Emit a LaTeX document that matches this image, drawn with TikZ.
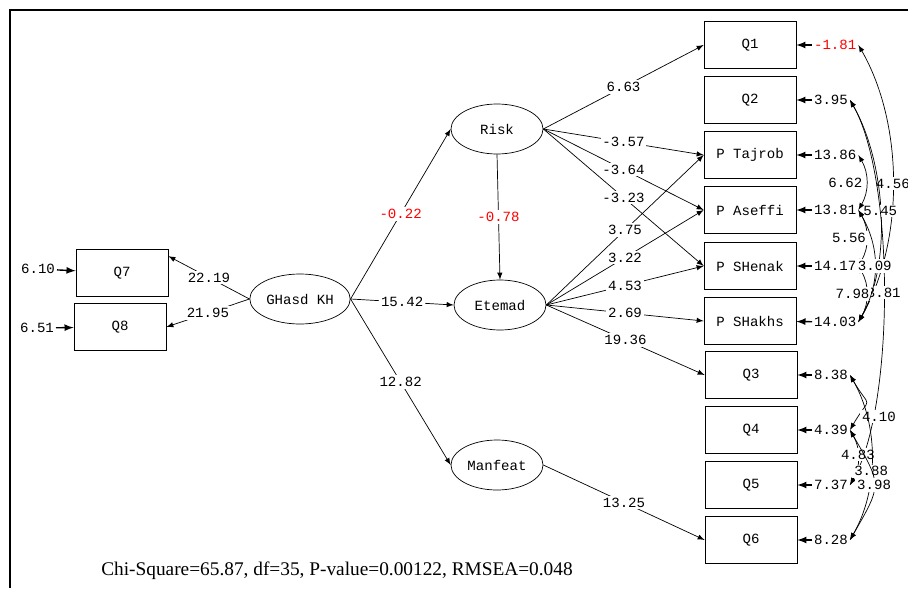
\documentclass[tikz,border=0pt]{standalone}
\usepackage{fontspec}
\setmainfont{Liberation Serif}
\newfontfamily\lismono{Liberation Mono}
\usetikzlibrary{shapes.geometric}

\begin{document}
\begin{tikzpicture}[x=0.02cm, y=-0.02cm,
  obs/.style={draw, rectangle, minimum width=1.84cm, minimum height=0.93cm, font=\lismono\fontsize{8}{9}\selectfont},
  lat/.style={draw, ellipse, minimum width=1.84cm, minimum height=1cm, inner sep=1, font=\lismono\fontsize{8}{9}\selectfont},
  val/.style={inner sep=1pt, font=\lismono\fontsize{8}{9}\selectfont},
  coef/.style={val, fill=white},
  neg/.style={text=red}]
\useasboundingbox (0,0) rectangle (908,588);
\draw[line width=1.5pt] (10,588) -- (10,10) -- (908,10);
% Latent variables
\node[lat] (ghasd) at (300,299) {GHasd KH};
\node[lat] (risk) at (497,129) {Risk};
\node[lat] (etemad) at (500,305) {Etemad};
\node[lat] (manfeat) at (497,465) {Manfeat};
% Observed variables
\node[obs] (q7) at (122,273) {Q7};
\node[obs] (q8) at (120,327) {Q8};
\node[obs] (q1) at (750,45) {Q1};
\node[obs] (q2) at (750,100) {Q2};
\node[obs] (ptaj) at (750,155) {P Tajrob};
\node[obs] (pase) at (750,210) {P Aseffi};
\node[obs] (pshe) at (750,266) {P SHenak};
\node[obs] (psha) at (750,321) {P SHakhs};
\node[obs] (q3) at (751,375) {Q3};
\node[obs] (q4) at (751,430) {Q4};
\node[obs] (q5) at (751,485) {Q5};
\node[obs] (q6) at (751,540) {Q6};
% Error variances
\node[val, anchor=east] (e7) at (57,269) {6.10};
\node[val, anchor=east] (e8) at (56,328) {6.51};
\node[val, neg, anchor=west] (e1) at (812,45) {-1.81};
\node[val, anchor=west] (e2) at (812,100) {3.95};
\node[val, anchor=west] (e3) at (812,155) {13.86};
\node[val, anchor=west] (e4) at (812,210) {13.81};
\node[val, anchor=west] (e5) at (812,266) {14.17};
\node[val, anchor=west] (e6) at (812,322) {14.03};
\node[val, anchor=west] (e9) at (812,375) {8.38};
\node[val, anchor=west] (e10) at (812,430) {4.39};
\node[val, anchor=west] (e11) at (812,485) {7.37};
\node[val, anchor=west] (e12) at (812,540) {8.28};
% Arrows
\draw [->, thin, >=latex] (ghasd.west)--(q7.20) node[coef, pos=0.5] {22.19};
\draw [->, thin, >=latex] (ghasd.west)--(q8.east) node[coef, pos=0.5] {21.95};
\draw [->, thin, >=latex] (ghasd.east)--(risk.west) node[coef, neg, midway] {-0.22};
\draw [->, thin, >=latex] (ghasd.east)--(etemad.west) node[coef, midway] {15.42};
\draw [->, thin, >=latex] (ghasd.east)--(manfeat.west) node[coef, midway] {12.82};
\draw [->, thin, >=latex] (risk.south)--(etemad.north) node[coef, neg, midway] {-0.78};
\draw [->, thin, >=latex] (risk.east)--(q1.west) node[coef, midway] {6.63};
\draw [->, thin, >=latex] (risk.east)--(ptaj.west) node[coef, midway] {-3.57};
\draw [->, thin, >=latex] (risk.east)--(pase.west) node[coef, midway] {-3.64};
\draw [->, thin, >=latex] (risk.east)--(pshe.west) node[coef, midway] {-3.23};
\draw [->, thin, >=latex] (etemad.east)--(ptaj.west) node[coef, midway] {3.75};
\draw [->, thin, >=latex] (etemad.east)--(pase.west) node[coef, midway] {3.22};
\draw [->, thin, >=latex] (etemad.east)--(pshe.west) node[coef, midway] {4.53};
\draw [->, thin, >=latex] (etemad.east)--(psha.west) node[coef, midway] {2.69};
\draw [->, thin, >=latex] (etemad.east)--(q3.west) node[coef, midway] {19.36};
\draw [->, thin, >=latex] (manfeat.east)--(q6.west) node[coef, midway] {13.25};
% Errors:
\draw [->, thick, >=latex] (e7)--(q7);
\draw [->, thick, >=latex] (e8)--(q8);
\draw [->, thick, >=latex] (e1)--(q1);
\draw [->, thick, >=latex] (e2)--(q2);
\draw [->, thick, >=latex] (e3)--(ptaj);
\draw [->, thick, >=latex] (e4)--(pase);
\draw [->, thick, >=latex] (e5)--(pshe);
\draw [->, thick, >=latex] (e6)--(psha);
\draw [->, thick, >=latex] (e9)--(q3);
\draw [->, thick, >=latex] (e10)--(q4);
\draw [->, thick, >=latex] (e11)--(q5);
\draw [->, thick, >=latex] (e12)--(q6);
% Error covariances:
\draw[<->, thin, >=latex] (e1.east) to [out=-60,in=60,looseness=0.85] node[coef, pos=0.5] {4.56} (e6.east);
\draw[<->, thin, >=latex] (e2.east) to [out=-60,in=60,looseness=0.8] node[coef, pos=0.5] {5.45} (e6.east);
\draw[<->, thin, >=latex] (e2.east) to [out=-60,in=60,looseness=0.6] node[coef, pos=0.5] {3.81} (e11.east);
\draw[<->, thin, >=latex] (e3.east) to [out=-60,in=60,looseness=1] node[coef, pos=0.5, xshift=-12] {6.62} (e4.east);
\draw[<->, thin, >=latex] (e4.east) to [out=-60,in=60,looseness=1] node[coef, pos=0.5, xshift=-10] {5.56} (e5.east);
\draw[<->, thin, >=latex] (e5.east) to [out=-60,in=60,looseness=1] node[coef, pos=0.5, xshift=-8] {7.98} (e6.east);
\draw[<->, thin, >=latex] (e4.east) to [out=-60,in=60,looseness=1] node[coef, pos=0.5] {3.09} (e6.east);
\draw[<->, thin, >=latex] (e9.east) to [out=-60,in=60,looseness=2] node[coef, pos=0.85, right=1pt] {4.10} (e10.east);
\draw[<->, thin, >=latex] (e10.east) to [out=-60,in=60,looseness=1] node[coef, pos=0.45] {4.83} (e11.east);
\draw[<->, thin, >=latex] (e9.east) to [out=-60,in=60,looseness=0.9] node[coef, pos=0.58] {3.88} (e12.east);
\draw[<->, thin, >=latex] (e10.east) to [out=-60,in=60,looseness=1.5] node[coef, pos=0.5] {3.98} (e12.east);
% Fit
\node[font=\fontsize{11}{13}\selectfont] (fit) at (337,571) {Chi-Square=65.87, df=35, P-value=0.00122, RMSEA=0.048};
\end{tikzpicture}
\end{document}
